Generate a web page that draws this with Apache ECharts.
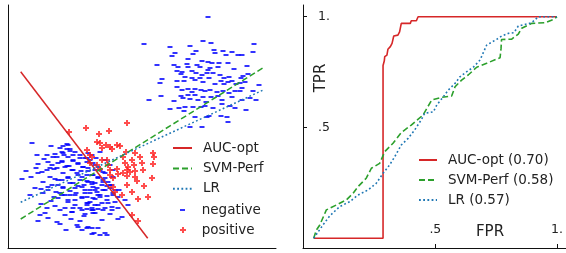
<!DOCTYPE html>
<html>
<head>
<meta charset="utf-8">
<script src="https://cdn.jsdelivr.net/npm/echarts@6/dist/echarts.min.js"></script>
<style>
html, body { margin: 0; padding: 0; background: #fff; }
#main { width: 566px; height: 253px; }
</style>
</head>
<body>
<div id="main"></div>
<script>
// left panel: sample points (arbitrary feature units)
var negative = [
  [20.0,23.1],[13.6,20.4],[16.2,20.1],[18.2,20.2],[19.5,20.7],[20.3,20.5],[24.6,20.4],[16.7,19.5],[16.4,19.2],
  [18.8,19.7],[18.5,19.4],[20.6,19.8],[20.7,19.5],[21.5,19.7],[21.8,19.3],[22.4,19.6],[23.0,19.3],[23.4,19.3],
  [24.5,19.6],[18.0,18.9],[19.4,18.7],[20.0,18.6],[20.4,18.5],[21.1,18.5],[22.0,18.5],[14.9,18.3],[16.6,18.3],
  [17.0,18.1],[17.9,18.4],[18.0,18.1],[18.9,18.3],[19.2,18.1],[20.2,18.0],[20.0,17.8],[21.0,18.1],[22.6,17.9],
  [23.9,18.2],[16.9,17.7],[17.4,17.6],[17.3,17.4],[18.4,17.7],[18.8,17.5],[19.4,17.3],[19.9,17.5],[20.5,17.5],
  [21.2,17.3],[21.6,17.0],[22.1,17.1],[23.3,17.0],[23.5,17.2],[24.0,17.4],[15.4,16.9],[15.2,16.5],[16.9,16.7],
  [17.7,17.1],[17.6,16.7],[18.4,17.0],[18.7,16.8],[19.2,17.0],[19.5,16.6],[20.1,17.0],[20.7,16.4],[21.3,16.7],
  [21.6,16.4],[22.0,16.6],[22.4,16.7],[22.8,16.4],[23.2,16.5],[23.7,16.6],[25.1,16.3],[16.9,16.1],[17.4,15.8],
  [18.0,15.9],[18.4,15.6],[18.7,15.9],[19.3,15.8],[19.7,15.7],[20.2,15.8],[20.9,15.6],[21.5,15.7],[22.1,15.5],
  [22.7,15.7],[23.2,15.7],[23.4,16.0],[24.5,15.7],[14.1,14.8],[15.3,15.2],[16.6,14.7],[17.3,15.2],[17.5,15.0],
  [18.0,15.3],[18.2,14.9],[18.7,15.3],[19.0,14.8],[19.5,15.1],[19.8,14.6],[20.3,15.1],[21.0,15.2],[21.4,14.8],
  [22.4,15.1],[23.4,14.8],[24.2,15.0],[24.8,14.8],[16.2,13.9],[17.1,14.0],[17.7,14.1],[17.6,13.7],[18.5,14.1],
  [19.3,14.1],[19.7,14.2],[20.5,14.0],[21.4,14.4],[22.2,14.2],[22.7,14.0],[23.8,13.8],[18.7,13.1],[19.9,13.1],
  [20.1,13.2],[21.3,13.2],[21.9,13.1],[22.0,12.6],[19.4,12.1],[18.2,12.1],
  [2.4,10.5],[5.5,10.2],[6.0,10.3],[3.0,8.4],[1.8,7.7],[3.5,6.6],[3.0,7.5],[3.4,7.6],[3.9,7.8],[4.0,8.6],
  [4.7,9.4],[4.5,9.1],[5.4,9.6],[5.9,9.9],[6.2,9.7],[5.6,9.3],[4.4,8.3],[4.2,8.0],[4.6,7.9],[5.0,8.5],
  [5.4,8.7],[5.7,8.1],[4.2,7.1],[4.7,6.9],[5.0,6.3],[4.0,5.8],[3.5,5.5],[4.0,6.1],[5.2,5.5],[5.0,5.0],
  [5.5,6.0],[5.7,5.3],[4.3,4.7],[3.7,3.5],[3.2,3.3],[4.0,3.0],[3.0,2.7],[5.2,3.8],[5.7,3.3],[4.7,4.2],
  [6.5,4.0],[7.2,4.0],[6.9,2.3],[7.4,1.8],[7.9,2.0],[8.4,2.0],[8.4,1.4],[7.9,3.9],[8.5,3.8],[6.0,7.1],
  [6.5,7.8],[7.0,7.3],[6.2,6.5],[6.7,6.0],[7.4,6.1],[6.2,5.3],[6.7,4.8],[7.4,5.0],[7.7,5.5],[8.2,4.6],
  [6.5,8.8],[7.0,8.5],[7.5,8.1],[6.5,9.3],[7.2,9.0],[7.9,7.3],[8.4,6.6],[8.7,5.8],[7.9,8.6],
  [8.0,9.5],[8.4,9.3],[7.9,9.0],[8.5,8.5],[8.0,8.0],[8.7,7.8],[9.0,8.1],[9.5,7.6],[8.4,7.3],[9.0,7.1],
  [9.7,7.0],[8.0,6.6],[8.7,6.5],[9.4,6.3],[10.0,6.6],[8.2,5.8],[8.9,5.6],[9.5,5.8],[10.2,6.0],[7.9,5.1],
  [8.5,5.0],[9.2,5.1],[9.9,5.2],[10.5,5.3],[8.0,4.5],[8.7,4.3],[9.4,4.5],[10.0,4.5],[10.7,4.6],[8.4,3.8],
  [9.0,3.9],[9.7,4.0],[10.4,3.8],[11.0,4.0],[8.7,3.5],[10.2,3.4],[11.4,3.1],[9.4,2.8],[11.0,2.9],[8.0,2.1],
  [9.0,2.0],[8.6,1.5],[9.7,1.5],[12.0,4.3],[11.0,5.1],[11.7,4.8],[10.7,5.8],[9.7,8.8],[10.2,8.3],[10.5,7.1],
  [10.4,6.3],[7.0,2.1],[9.2,1.3],[9.9,1.3],[10.5,7.8],[9.5,6.8],[9.9,6.2],[9.0,5.3],[11.1,5.8],[8.5,6.1],
  [7.6,6.3],[7.2,6.8],[6.8,5.5],[7.9,4.3],[6.0,4.6],[5.4,6.8],[4.4,6.3],[2.7,6.0],[2.2,5.3],[3.3,4.4],
  [6.3,2.9],[5.2,2.4],[6.1,8.2],[7.3,7.7],[8.8,9.0],[9.2,9.6],[3.9,9.3],[4.8,5.6],[6.4,3.6],[7.6,3.2],
  [5.9,10.4],[5.2,10.0],[6.2,9.9],[6.7,9.6],[5.5,9.5],[7.2,9.3],[4.9,9.1],[6.0,9.1],[7.7,9.0],[6.5,8.7],
  [5.4,8.6],[8.2,8.8],[7.0,8.4],[5.9,8.2],[8.7,8.3],[7.5,8.1],[4.9,8.0],[6.4,7.8],[8.0,7.7],[9.2,7.8],
  [6.9,7.5],[5.5,7.5],[8.5,7.3],[9.7,7.5],[7.4,7.1],[6.0,7.0],[9.0,7.0],[7.9,6.7],[5.0,6.8],[6.5,6.5],
  [9.5,6.6],[8.4,6.4],[7.0,6.2],[10.2,6.3],[5.5,6.1],[8.9,6.0],[7.7,5.8],[6.2,5.7],[9.7,5.8],[8.2,5.5],
  [6.7,5.3],[10.5,5.5],[9.2,5.3],[5.4,5.3],[7.4,5.1],[8.7,4.9],[6.0,4.8],[9.9,4.8],[7.9,4.5],[6.7,4.3],
  [9.0,4.3],[8.4,4.0],[7.4,3.8],[5.7,4.0],[9.5,3.8],[10.4,4.1],[6.4,3.6],[8.5,3.5],[7.7,3.4],
  [2.3,7.1],[2.8,8.0],[3.6,8.9],[4.3,10.2],[3.3,5.9],[4.6,5.1],[3.9,4.0],[4.9,2.6],[5.8,1.8],[7.2,2.7],
  [2.9,9.3],[1.4,6.9]
];
var positive = [
  [6.1,11.6],[7.8,12.0],[9.1,11.4],[10.1,11.7],[11.9,12.5],[8.9,10.6],[9.2,10.5],[9.8,10.3],[10.2,10.1],
  [10.4,9.9],[10.9,10.3],[11.2,10.2],[9.4,10.0],[11.8,9.6],[12.7,9.5],[13.2,9.1],[14.5,9.5],[14.6,9.1],
  [8.2,9.3],[8.4,9.1],[9.4,8.8],[9.9,8.8],[11.5,9.1],[11.7,8.5],[12.4,8.8],[12.6,8.3],[13.4,8.5],[8.9,8.3],
  [9.2,7.9],[10.0,8.3],[10.2,7.8],[10.9,7.9],[12.0,8.1],[11.9,7.8],[12.2,7.6],[12.7,7.7],[14.5,8.4],[11.5,7.5],
  [11.9,7.2],[10.2,7.3],[10.5,7.0],[12.7,7.1],[12.9,6.7],[14.4,7.0],[10.5,6.1],[10.7,5.6],[11.9,6.3],[13.6,6.2],
  [12.4,5.6],[11.4,5.3],[13.0,4.9],[14.0,5.1],[12.4,3.3],[13.0,2.7],[13.5,7.8],[8.2,8.5],[11.0,7.4],[7.9,9.8]
];
// separating lines: two end points each
var aucOptLine = [[1.27, 17.63], [13.97, 0.97]];
var svmPerfLine = [[1.27, 2.9], [25.53, 18.03]];
var lrLine = [[1.27, 4.57], [25.53, 15.8]];

// right panel: ROC curves [FPR, TPR]
var rocAucOpt = [
  [0,0],[0.285,0],[0.285,0.78],[0.29,0.80],[0.292,0.82],[0.301,0.827],[0.305,0.853],[0.315,0.865],
  [0.322,0.88],[0.329,0.913],[0.346,0.917],[0.353,0.932],[0.36,0.97],[0.397,0.97],[0.401,0.982],
  [0.422,0.982],[0.429,1],[1,1]
];
var rocSvmPerf = [
  [0,0],[0.011,0.037],[0.025,0.060],[0.052,0.128],[0.093,0.150],[0.134,0.173],[0.162,0.203],[0.182,0.233],
  [0.216,0.271],[0.237,0.316],[0.271,0.338],[0.292,0.391],[0.326,0.429],[0.360,0.477],[0.401,0.511],
  [0.449,0.556],[0.485,0.624],[0.526,0.636],[0.567,0.642],[0.581,0.684],[0.608,0.714],[0.635,0.737],
  [0.670,0.772],[0.711,0.790],[0.766,0.815],[0.770,0.857],[0.772,0.897],[0.814,0.899],[0.841,0.922],
  [0.855,0.948],[0.896,0.970],[0.951,0.973],[0.985,0.988],[1,1]
];
var rocLR = [
  [0,0],[0.038,0.060],[0.066,0.101],[0.107,0.143],[0.148,0.165],[0.182,0.195],[0.223,0.218],[0.257,0.248],
  [0.285,0.293],[0.312,0.331],[0.333,0.368],[0.360,0.421],[0.388,0.451],[0.415,0.489],[0.442,0.534],
  [0.456,0.564],[0.492,0.571],[0.506,0.602],[0.533,0.639],[0.553,0.669],[0.581,0.699],[0.601,0.729],
  [0.629,0.752],[0.656,0.772],[0.684,0.805],[0.697,0.838],[0.711,0.872],[0.752,0.898],[0.773,0.913],
  [0.800,0.925],[0.823,0.928],[0.841,0.958],[0.896,0.973],[0.923,1.0],[1,1]
];
var rocTicks = [0.5, 1];
var rocLegend = ['AUC-opt (0.70)', 'SVM-Perf (0.58)', 'LR (0.57)'];

var FONT = 'DejaVu Sans';
var RED = '#d62728', GREEN = '#2ca02c', BLUE = '#1f77b4';
var NONE = 'rgba(0,0,0,0)'; // hides the legend's marker dot on line items
var axisLineStyle = { color: '#111', width: 1 };
function tickText(v) { return v === 1 ? '1.' : '.5'; }
function legendText(pad) {
  return { fontFamily: FONT, fontSize: 13.5, color: '#222', lineHeight: 16, padding: [0, 0, 0, pad] };
}

var chart = echarts.init(document.getElementById('main'));
chart.setOption({
  animation: false,
  backgroundColor: '#fff',
  textStyle: { fontFamily: FONT },
  grid: [
    { left: 8, top: 5, width: 268, height: 243 },
    { left: 303, top: 5, width: 263, height: 243 }
  ],
  xAxis: [
    { gridIndex: 0, type: 'value', min: 0, max: 26.8,
      axisLine: { onZero: false, lineStyle: axisLineStyle },
      axisTick: { show: false }, axisLabel: { show: false }, splitLine: { show: false } },
    { gridIndex: 1, type: 'value', min: -0.044, max: 1.037,
      axisLine: { onZero: false, lineStyle: axisLineStyle },
      axisTick: { show: true, inside: true, length: 4, customValues: rocTicks, lineStyle: { color: '#111' } },
      axisLabel: { inside: true, margin: 12, customValues: rocTicks, formatter: tickText,
        fontFamily: FONT, fontSize: 12.5, color: '#222' },
      splitLine: { show: false } }
  ],
  yAxis: [
    { gridIndex: 0, type: 'value', min: 0, max: 24.3,
      axisLine: { show: true, onZero: false, lineStyle: axisLineStyle },
      axisTick: { show: false }, axisLabel: { show: false }, splitLine: { show: false } },
    { gridIndex: 1, type: 'value', min: -0.044, max: 1.053,
      axisLine: { show: true, onZero: false, lineStyle: axisLineStyle },
      axisTick: { show: true, inside: true, length: 4, customValues: rocTicks, lineStyle: { color: '#111' } },
      axisLabel: { inside: true, margin: 15, customValues: rocTicks, formatter: tickText,
        fontFamily: FONT, fontSize: 12.5, color: '#222' },
      splitLine: { show: false } }
  ],
  legend: [
    { orient: 'vertical', left: 172, top: 140, padding: 0, itemGap: 4.4, itemWidth: 19, itemHeight: 10,
      data: ['AUC-opt', 'SVM-Perf', 'LR'], textStyle: legendText(6) },
    { orient: 'vertical', left: 180, top: 202, padding: 0, itemWidth: 5, itemHeight: 2,
      data: ['negative'], textStyle: legendText(11.7) },
    { orient: 'vertical', left: 180, top: 222, padding: 0, itemWidth: 6, itemHeight: 6,
      data: ['positive'], textStyle: legendText(10.7) },
    { orient: 'vertical', left: 418, top: 152, padding: 0, itemGap: 4, itemWidth: 18, itemHeight: 10,
      data: rocLegend, textStyle: legendText(6) }
  ],
  graphic: [
    { type: 'text', x: 321, y: 78, rotation: Math.PI / 2,
      style: { text: 'TPR', fontFamily: FONT, fontSize: 15, fill: '#222', align: 'center', verticalAlign: 'middle' } },
    { type: 'text', x: 490, y: 232,
      style: { text: 'FPR', fontFamily: FONT, fontSize: 15, fill: '#222', align: 'center', verticalAlign: 'middle' } }
  ],
  series: [
    { name: 'negative', type: 'scatter', xAxisIndex: 0, yAxisIndex: 0, data: negative,
      symbol: 'rect', symbolSize: [5, 2], itemStyle: { color: '#0000ff' }, z: 2 },
    { name: 'positive', type: 'scatter', xAxisIndex: 0, yAxisIndex: 0, data: positive,
      symbol: 'path://M2,0H4V2H6V4H4V6H2V4H0V2H2Z', symbolSize: 6, itemStyle: { color: '#ff2020' }, z: 2 },
    { name: 'AUC-opt', type: 'line', xAxisIndex: 0, yAxisIndex: 0, data: aucOptLine, symbol: 'none',
      lineStyle: { color: RED, width: 1.5 }, itemStyle: { color: NONE }, z: 3 },
    { name: 'SVM-Perf', type: 'line', xAxisIndex: 0, yAxisIndex: 0, data: svmPerfLine, symbol: 'none',
      lineStyle: { color: GREEN, width: 1.5, type: [6, 3] }, itemStyle: { color: NONE }, z: 3 },
    { name: 'LR', type: 'line', xAxisIndex: 0, yAxisIndex: 0, data: lrLine, symbol: 'none',
      lineStyle: { color: BLUE, width: 1.5, type: [1.8, 2.4] }, itemStyle: { color: NONE }, z: 3 },
    { name: rocLegend[0], type: 'line', xAxisIndex: 1, yAxisIndex: 1, data: rocAucOpt, symbol: 'none',
      lineStyle: { color: RED, width: 1.6 }, itemStyle: { color: NONE }, z: 3 },
    { name: rocLegend[1], type: 'line', xAxisIndex: 1, yAxisIndex: 1, data: rocSvmPerf, symbol: 'none',
      lineStyle: { color: GREEN, width: 1.6, type: [6, 3] }, itemStyle: { color: NONE }, z: 3 },
    { name: rocLegend[2], type: 'line', xAxisIndex: 1, yAxisIndex: 1, data: rocLR, symbol: 'none',
      lineStyle: { color: BLUE, width: 1.6, type: [1.8, 2.4] }, itemStyle: { color: NONE }, z: 3 }
  ]
});
</script>
</body>
</html>
